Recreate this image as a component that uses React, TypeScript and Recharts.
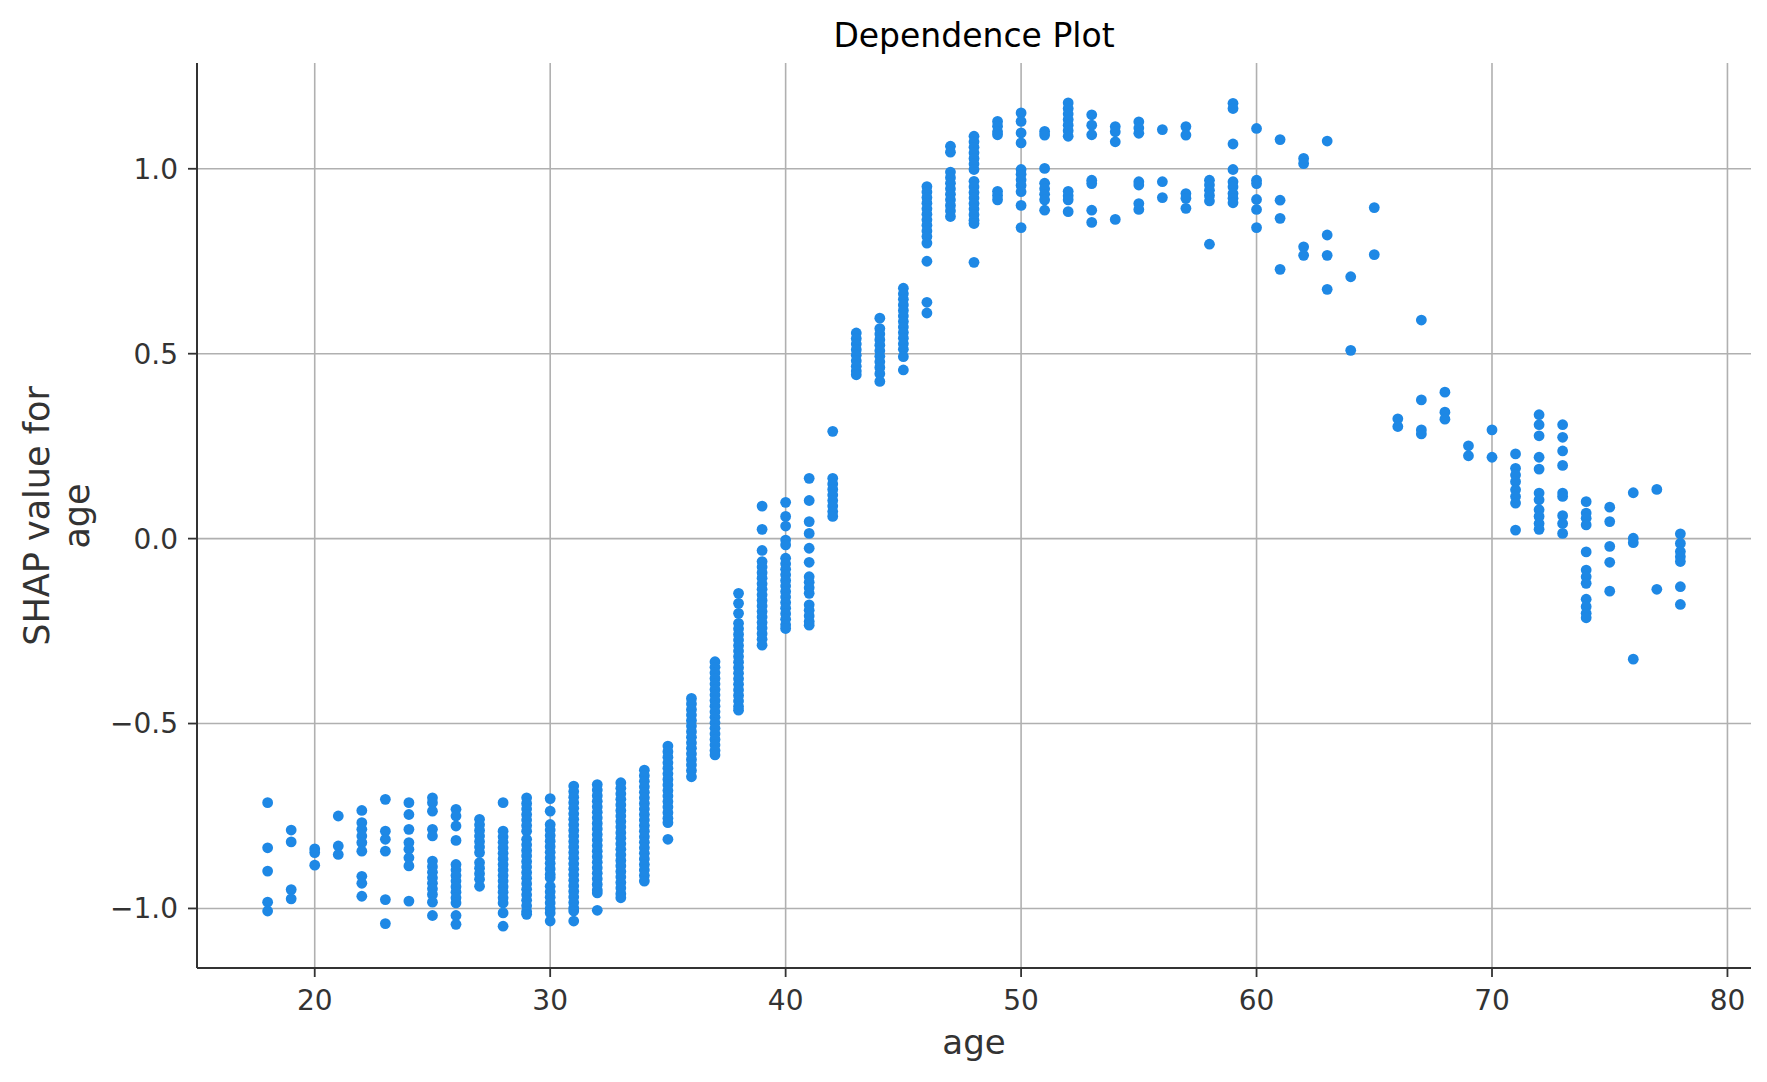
import React from "react";
import {
  ScatterChart,
  Scatter,
  XAxis,
  YAxis,
  ReferenceLine,
} from "recharts";

// feature values (age) and the SHAP values read for each of them
const ages = [
  18, 19, 20, 21, 22, 23, 24, 25, 26, 27, 28, 29, 30, 31, 32, 33, 34, 35, 36, 37,
  38, 39, 40, 41, 42, 43, 44, 45, 46, 47, 48, 49, 50, 51, 52, 53, 54, 55, 56, 57,
  58, 59, 60, 61, 62, 63, 64, 65, 66, 67, 68, 69, 70, 71, 72, 73, 74, 75, 76, 77, 78,
];

const shapByAge: number[][] = [
  [-0.714, -0.836, -0.899, -0.983, -1.007],
  [-0.788, -0.82, -0.949, -0.974],
  [-0.839, -0.849, -0.883],
  [-0.75, -0.831, -0.854],
  [-0.735, -0.768, -0.786, -0.804, -0.822, -0.845, -0.913, -0.932, -0.967],
  [-0.705, -0.791, -0.813, -0.845, -0.976, -1.041],
  [-0.714, -0.746, -0.786, -0.822, -0.84, -0.863, -0.885, -0.98],
  [-0.701, -0.714, -0.737, -0.786, -0.804, -0.872, -0.887, -0.902, -0.917, -0.932, -0.947, -0.962, -0.983, -1.019],
  [-0.732, -0.75, -0.777, -0.816, -0.881, -0.896, -0.911, -0.926, -0.941, -0.956, -0.971, -0.985, -1.019, -1.043],
  [-0.759, -0.774, -0.789, -0.804, -0.819, -0.834, -0.849, -0.876, -0.891, -0.906, -0.921, -0.94],
  [-0.714, -0.791, -0.806, -0.821, -0.836, -0.851, -0.866, -0.881, -0.896, -0.911, -0.926, -0.941, -0.956, -0.971, -0.985, -1.012, -1.048],
  [-0.701, -0.716, -0.731, -0.746, -0.761, -0.776, -0.791, -0.813, -0.828, -0.843, -0.858, -0.873, -0.888, -0.903, -0.918, -0.933, -0.948, -0.963, -0.978, -0.993, -1.008, -1.016],
  [-0.703, -0.737, -0.773, -0.788, -0.803, -0.818, -0.833, -0.848, -0.863, -0.878, -0.893, -0.908, -0.917, -0.94, -0.955, -0.97, -0.985, -1.0, -1.012, -1.034],
  [-0.669, -0.684, -0.699, -0.714, -0.729, -0.744, -0.759, -0.774, -0.789, -0.804, -0.819, -0.834, -0.849, -0.864, -0.879, -0.894, -0.909, -0.924, -0.939, -0.954, -0.969, -0.984, -0.999, -1.007, -1.034],
  [-0.665, -0.68, -0.695, -0.71, -0.725, -0.74, -0.755, -0.77, -0.785, -0.8, -0.815, -0.83, -0.845, -0.86, -0.875, -0.89, -0.905, -0.92, -0.935, -0.95, -0.958, -1.005],
  [-0.66, -0.675, -0.69, -0.705, -0.72, -0.735, -0.75, -0.765, -0.78, -0.795, -0.81, -0.825, -0.84, -0.855, -0.87, -0.885, -0.9, -0.915, -0.93, -0.945, -0.96, -0.971],
  [-0.626, -0.641, -0.656, -0.671, -0.686, -0.701, -0.716, -0.731, -0.746, -0.761, -0.776, -0.791, -0.806, -0.821, -0.836, -0.851, -0.866, -0.881, -0.896, -0.911, -0.926],
  [-0.561, -0.576, -0.591, -0.606, -0.621, -0.636, -0.651, -0.666, -0.681, -0.696, -0.711, -0.726, -0.741, -0.756, -0.768, -0.813],
  [-0.432, -0.447, -0.462, -0.477, -0.492, -0.507, -0.522, -0.537, -0.552, -0.567, -0.582, -0.597, -0.612, -0.627, -0.644],
  [-0.333, -0.348, -0.363, -0.378, -0.393, -0.408, -0.423, -0.438, -0.453, -0.468, -0.483, -0.498, -0.513, -0.528, -0.543, -0.558, -0.573, -0.585],
  [-0.148, -0.175, -0.202, -0.229, -0.244, -0.259, -0.274, -0.289, -0.304, -0.319, -0.334, -0.349, -0.364, -0.379, -0.394, -0.409, -0.424, -0.439, -0.454, -0.464],
  [0.088, 0.025, -0.032, -0.062, -0.077, -0.092, -0.107, -0.122, -0.137, -0.152, -0.167, -0.182, -0.197, -0.212, -0.227, -0.242, -0.257, -0.272, -0.288],
  [0.098, 0.06, 0.034, -0.004, -0.017, -0.053, -0.068, -0.083, -0.098, -0.113, -0.128, -0.143, -0.158, -0.173, -0.188, -0.203, -0.218, -0.233, -0.243],
  [0.163, 0.103, 0.046, 0.014, -0.026, -0.064, -0.103, -0.118, -0.133, -0.148, -0.179, -0.194, -0.209, -0.224, -0.234],
  [0.29, 0.163, 0.148, 0.133, 0.118, 0.103, 0.088, 0.073, 0.06],
  [0.556, 0.541, 0.526, 0.511, 0.496, 0.481, 0.466, 0.453, 0.443],
  [0.596, 0.568, 0.553, 0.538, 0.523, 0.508, 0.493, 0.478, 0.463, 0.446, 0.425],
  [0.677, 0.662, 0.647, 0.632, 0.617, 0.602, 0.587, 0.572, 0.557, 0.542, 0.527, 0.512, 0.492, 0.456],
  [0.952, 0.937, 0.922, 0.907, 0.892, 0.877, 0.862, 0.847, 0.832, 0.817, 0.799, 0.75, 0.639, 0.61],
  [1.061, 1.045, 0.991, 0.976, 0.961, 0.946, 0.931, 0.916, 0.901, 0.886, 0.871],
  [1.088, 1.073, 1.058, 1.043, 1.028, 1.013, 0.998, 0.966, 0.951, 0.936, 0.921, 0.906, 0.891, 0.876, 0.861, 0.852, 0.747],
  [1.128, 1.115, 1.1, 1.092, 0.939, 0.928, 0.916],
  [1.151, 1.128, 1.097, 1.07, 0.998, 0.985, 0.97, 0.955, 0.938, 0.901, 0.841],
  [1.101, 1.091, 1.001, 0.961, 0.946, 0.931, 0.916, 0.888],
  [1.178, 1.163, 1.148, 1.133, 1.118, 1.103, 1.088, 0.939, 0.927, 0.916, 0.884],
  [1.146, 1.118, 1.092, 0.969, 0.96, 0.888, 0.855],
  [1.114, 1.1, 1.073, 0.863],
  [1.127, 1.11, 1.096, 0.965, 0.956, 0.906, 0.89],
  [1.106, 0.965, 0.922],
  [1.114, 1.091, 0.933, 0.92, 0.893],
  [0.969, 0.956, 0.942, 0.928, 0.913, 0.796],
  [1.177, 1.163, 1.067, 0.998, 0.965, 0.951, 0.933, 0.92, 0.908],
  [1.109, 0.969, 0.96, 0.917, 0.89, 0.841],
  [1.079, 0.915, 0.866, 0.728],
  [1.028, 1.014, 0.789, 0.766],
  [1.075, 0.821, 0.766, 0.674],
  [0.708, 0.509],
  [0.895, 0.768],
  [0.324, 0.303],
  [0.591, 0.375, 0.294, 0.283],
  [0.396, 0.342, 0.323],
  [0.251, 0.224],
  [0.294, 0.22],
  [0.229, 0.19, 0.172, 0.154, 0.132, 0.114, 0.096, 0.023],
  [0.335, 0.308, 0.278, 0.22, 0.188, 0.123, 0.105, 0.078, 0.06, 0.041, 0.025],
  [0.308, 0.274, 0.237, 0.198, 0.123, 0.114, 0.062, 0.041, 0.014],
  [0.1, 0.069, 0.055, 0.037, -0.036, -0.085, -0.103, -0.121, -0.164, -0.184, -0.202, -0.214],
  [0.085, 0.046, -0.021, -0.064, -0.142],
  [0.124, 0.001, -0.011, -0.326],
  [0.133, -0.137],
  [0.013, -0.013, -0.035, -0.049, -0.062, -0.13, -0.178],
];

const xTicks = [20, 30, 40, 50, 60, 70, 80];
const yTicks = [-1, -0.5, 0, 0.5, 1];

const points = ages.flatMap((age, i) =>
  shapByAge[i].map((shap) => ({ age, shap }))
);

const FONT = "'DejaVu Sans', sans-serif";
const DOT = "#1E88E5";
const INK = "#333333";
const GRID = "#b0b0b0";

const fmtY = (v: number) => {
  const s = Math.abs(v).toFixed(1);
  return v < 0 ? `\u2212${s}` : s;
};

const Dot = (props: any) => (
  <circle cx={props.cx} cy={props.cy} r={5.4} fill={DOT} />
);

const App = () => {
  return (
    <div style={{ position: "absolute", left: 0, top: 0, width: 1767, height: 1082, background: "#fff" }}>
      <ScatterChart
        width={1767}
        height={1082}
        margin={{ top: 63, right: 16, bottom: 0, left: 0 }}
      >
        <XAxis
          type="number"
          dataKey="age"
          domain={[15, 81]}
          ticks={xTicks}
          allowDataOverflow
          height={114}
          tick={{ fill: INK, fontSize: 28, fontFamily: FONT }}
          tickSize={9}
          tickMargin={13}
          tickLine={{ stroke: INK, strokeWidth: 1.8 }}
          axisLine={{ stroke: INK, strokeWidth: 2 }}
        />
        <YAxis
          type="number"
          dataKey="shap"
          domain={[-1.161, 1.286]}
          ticks={yTicks}
          allowDataOverflow
          width={197}
          tickFormatter={fmtY}
          tick={{ fill: INK, fontSize: 28, fontFamily: FONT }}
          tickSize={9}
          tickMargin={10}
          tickLine={{ stroke: INK, strokeWidth: 1.8 }}
          axisLine={{ stroke: INK, strokeWidth: 2 }}
        />
        <Scatter
          data={points}
          isAnimationActive={false}
          shape={<Dot />}
        />
        {xTicks.map((t) => (
          <ReferenceLine key={`x${t}`} x={t} stroke={GRID} strokeWidth={1.6} />
        ))}
        {yTicks.map((t) => (
          <ReferenceLine key={`y${t}`} y={t} stroke={GRID} strokeWidth={1.6} />
        ))}
      </ScatterChart>
      <svg
        width={1767}
        height={1082}
        style={{ position: "absolute", left: 0, top: 0, pointerEvents: "none" }}
      >
        <text x={974} y={35} textAnchor="middle" dominantBaseline="central" fontFamily={FONT} fontSize={33} fill="#000">
          Dependence Plot
        </text>
        <text x={974} y={1042} textAnchor="middle" dominantBaseline="central" fontFamily={FONT} fontSize={34} fill={INK}>
          age
        </text>
        <text
          transform="translate(37, 516) rotate(-90)"
          textAnchor="middle"
          dominantBaseline="central"
          fontFamily={FONT}
          fontSize={35}
          fill={INK}
        >
          <tspan x={0} y={0}>SHAP value for</tspan>
          <tspan x={0} y={40}>age</tspan>
        </text>
      </svg>
    </div>
  );
};

export default App;
